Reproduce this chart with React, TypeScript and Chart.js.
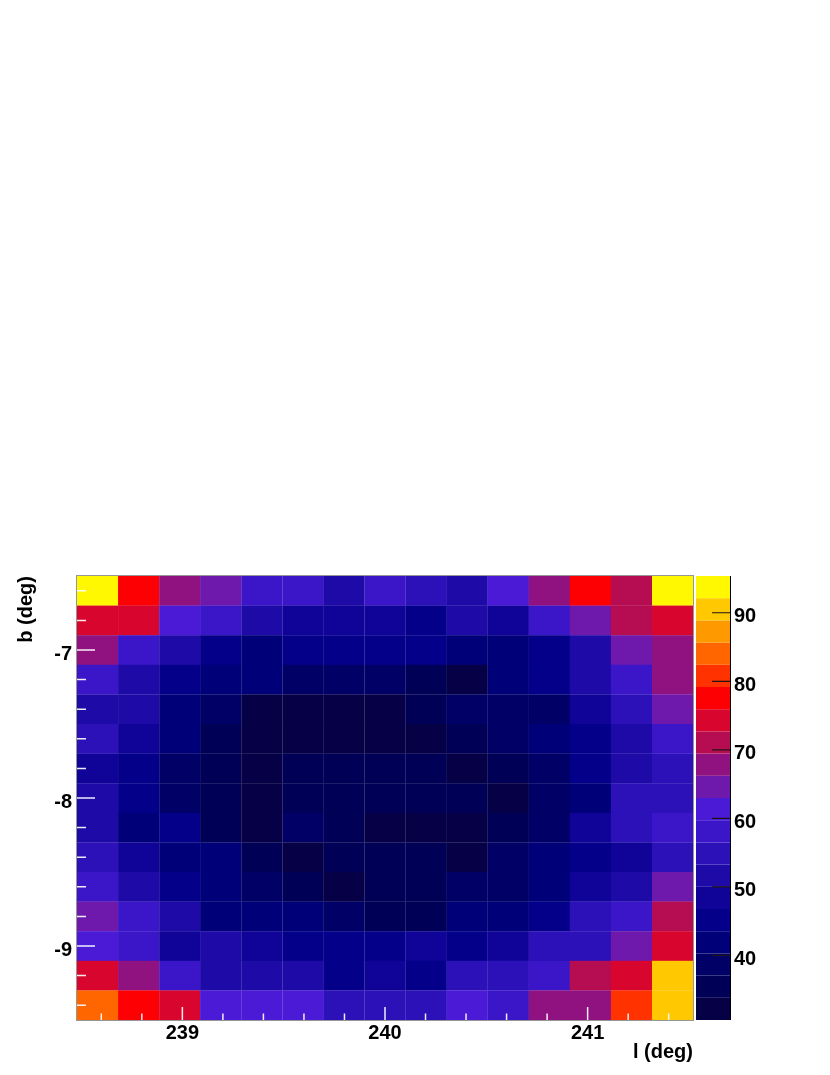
import React, { useEffect, useRef } from 'react';
import { Chart, registerables } from 'chart.js';

Chart.register(...registerables);

// Galactic longitude bin centres (deg)
const lCenters = [238.581, 238.784, 238.987, 239.189, 239.392, 239.595, 239.797, 240.0, 240.203, 240.405, 240.608, 240.811, 241.013, 241.216, 241.419];
// Galactic latitude bin centres (deg), top row first
const bCenters = [-6.6, -6.8, -7.0, -7.2, -7.4, -7.6, -7.8, -8.0, -8.2, -8.4, -8.6, -8.8, -9.0, -9.2, -9.4];

// Cell values, one array per latitude row (top to bottom)
const row01 = [95.3, 77.9, 67.5, 64.2, 58.4, 57.8, 51.2, 58.6, 55.1, 51.9, 61.0, 68.2, 77.2, 71.4, 94.6];
const row02 = [74.6, 74.0, 61.7, 58.3, 51.4, 48.7, 48.1, 48.5, 45.4, 51.8, 48.2, 57.9, 64.9, 70.8, 74.1];
const row03 = [67.6, 58.0, 51.5, 45.3, 42.2, 45.0, 44.8, 45.5, 45.1, 41.8, 42.4, 45.4, 51.9, 64.3, 68.1];
const row04 = [58.2, 51.7, 44.9, 42.0, 41.6, 38.9, 38.5, 38.8, 35.6, 32.4, 42.1, 45.3, 51.4, 58.5, 67.6];
const row05 = [51.9, 51.2, 41.7, 38.4, 32.0, 31.8, 32.3, 32.5, 35.2, 38.6, 38.9, 38.3, 48.6, 54.6, 64.8];
const row06 = [54.6, 48.5, 41.5, 35.3, 32.1, 32.6, 32.0, 31.9, 32.4, 35.6, 38.4, 42.0, 45.0, 51.5, 58.3];
const row07 = [48.3, 45.2, 38.6, 35.5, 32.3, 35.1, 35.7, 35.4, 35.9, 32.2, 35.3, 38.7, 45.4, 51.7, 54.7];
const row08 = [51.5, 45.0, 38.9, 35.6, 32.1, 35.2, 35.4, 35.3, 35.5, 35.8, 31.9, 38.5, 42.1, 54.8, 55.0];
const row09 = [51.8, 42.3, 45.1, 35.4, 32.0, 38.4, 35.3, 32.4, 32.1, 32.5, 35.6, 38.8, 48.2, 55.1, 58.0];
const row10 = [54.7, 48.6, 41.8, 42.0, 35.5, 32.2, 35.3, 35.8, 35.6, 32.3, 38.6, 41.9, 45.2, 48.4, 54.5];
const row11 = [58.3, 51.6, 45.3, 41.7, 38.5, 35.4, 32.1, 35.6, 35.5, 38.7, 38.9, 42.0, 48.1, 51.5, 64.6];
const row12 = [64.5, 58.1, 51.9, 42.2, 41.8, 41.6, 38.7, 35.3, 35.5, 42.1, 41.9, 45.3, 54.7, 58.2, 71.2];
const row13 = [61.2, 58.4, 48.3, 51.5, 48.6, 45.1, 44.9, 45.3, 48.2, 45.4, 48.5, 54.8, 55.0, 64.7, 74.5];
const row14 = [74.2, 67.9, 58.0, 51.8, 51.4, 51.6, 45.2, 48.3, 45.0, 54.9, 54.6, 58.3, 71.0, 74.4, 90.6];
const row15 = [84.1, 77.4, 74.0, 61.4, 61.2, 61.6, 54.8, 55.0, 54.7, 61.3, 58.2, 67.7, 68.0, 80.9, 90.3];
const rows = [row01, row02, row03, row04, row05, row06, row07, row08, row09, row10, row11, row12, row13, row14, row15];

// Axis ranges and ticks
const L_MIN = 238.48;
const L_MAX = 241.52;
const B_MIN = -9.5;
const B_MAX = -6.5;
const Z_MIN = 30.58;
const Z_MAX = 95.36;
const L_BIN = 0.2027;
const B_BIN = 0.2;
const lTicks = [239, 240, 241];
const lMinorTicks = [238.6, 238.8, 239.2, 239.4, 239.6, 239.8, 240.2, 240.4, 240.6, 240.8, 241.2, 241.4];
const bTicks = [-7, -8, -9];
const bMinorTicks = [-6.6, -6.8, -7.2, -7.4, -7.6, -7.8, -8.2, -8.4, -8.6, -8.8, -9.2, -9.4];
const zTicks = [40, 50, 60, 70, 80, 90];

// 20-level colour palette (low to high)
const palette = [
  'rgb(6,0,70)', 'rgb(0,0,86)', 'rgb(0,0,102)', 'rgb(0,0,120)', 'rgb(4,0,138)',
  'rgb(16,4,152)', 'rgb(30,10,166)', 'rgb(44,16,184)', 'rgb(58,22,200)', 'rgb(74,26,215)',
  'rgb(110,24,172)', 'rgb(144,18,128)', 'rgb(182,12,82)', 'rgb(216,6,46)', 'rgb(252,0,4)',
  'rgb(255,50,0)', 'rgb(255,102,0)', 'rgb(255,153,0)', 'rgb(255,200,0)', 'rgb(255,248,0)',
];

const FONT_FAMILY = "'Liberation Sans', Arial, Helvetica, sans-serif";

function colorFor(v: number): string {
  const n = palette.length;
  let i = Math.floor(((v - Z_MIN) / (Z_MAX - Z_MIN)) * n);
  if (i < 0) i = 0;
  if (i > n - 1) i = n - 1;
  return palette[i];
}

const heatmapPlugin = {
  id: 'heatmapPlugin',
  beforeDatasetsDraw(chart: any) {
    const ctx = chart.ctx;
    const xs = chart.scales.x;
    const ys = chart.scales.y;
    const ds = chart.data.datasets[0];
    ctx.save();
    for (const p of ds.data as any[]) {
      const x0 = xs.getPixelForValue(p.x - L_BIN / 2);
      const x1 = xs.getPixelForValue(p.x + L_BIN / 2);
      const y0 = ys.getPixelForValue(p.y + B_BIN / 2);
      const y1 = ys.getPixelForValue(p.y - B_BIN / 2);
      ctx.fillStyle = colorFor(p.v);
      ctx.fillRect(x0, y0, x1 - x0 + 0.2, y1 - y0 + 0.2);
    }
    ctx.restore();
  },
  afterDatasetsDraw(chart: any) {
    const ctx = chart.ctx;
    const area = chart.chartArea;
    const xs = chart.scales.x;
    const ys = chart.scales.y;
    const zs = chart.scales.z;
    ctx.save();
    // frame
    ctx.strokeStyle = 'rgb(150,150,150)';
    ctx.lineWidth = 1;
    ctx.strokeRect(area.left - 0.5, area.top - 0.5, area.right - area.left + 1, area.bottom - area.top + 1);

    // white tick marks inside the frame
    ctx.strokeStyle = 'rgba(255,255,255,0.92)';
    ctx.lineWidth = 1.5;
    ctx.beginPath();
    for (const t of lTicks) {
      const px = xs.getPixelForValue(t);
      ctx.moveTo(px, area.bottom);
      ctx.lineTo(px, area.bottom - 13);
    }
    for (const t of lMinorTicks) {
      const px = xs.getPixelForValue(t);
      ctx.moveTo(px, area.bottom);
      ctx.lineTo(px, area.bottom - 6.5);
    }
    for (const t of bTicks) {
      const py = ys.getPixelForValue(t);
      ctx.moveTo(area.left, py);
      ctx.lineTo(area.left + 18, py);
    }
    for (const t of bMinorTicks) {
      const py = ys.getPixelForValue(t);
      ctx.moveTo(area.left, py);
      ctx.lineTo(area.left + 9, py);
    }
    ctx.stroke();

    // colour bar
    const barL = area.right + 3;
    const barR = area.right + 37;
    const n = palette.length;
    for (let i = 0; i < n; i++) {
      const lo = Z_MIN + ((Z_MAX - Z_MIN) * i) / n;
      const hi = Z_MIN + ((Z_MAX - Z_MIN) * (i + 1)) / n;
      const y0 = zs.getPixelForValue(hi);
      const y1 = zs.getPixelForValue(lo);
      ctx.fillStyle = palette[i];
      ctx.fillRect(barL, y0, barR - barL, y1 - y0);
    }
    ctx.strokeStyle = '#000';
    ctx.lineWidth = 1;
    ctx.beginPath();
    ctx.moveTo(barR + 0.5, zs.getPixelForValue(Z_MAX));
    ctx.lineTo(barR + 0.5, zs.getPixelForValue(Z_MIN));
    ctx.stroke();
    ctx.strokeStyle = 'rgb(30,20,20)';
    ctx.lineWidth = 1.2;
    ctx.beginPath();
    for (const t of zTicks) {
      const py = zs.getPixelForValue(t);
      ctx.moveTo(barR, py);
      ctx.lineTo(barR - 18, py);
    }
    ctx.stroke();
    ctx.restore();
  },
};

export default function App() {
  const canvasRef = useRef<HTMLCanvasElement | null>(null);

  useEffect(() => {
    const canvas = canvasRef.current;
    if (!canvas) return;
    const points: any[] = [];
    rows.forEach((row, r) => {
      row.forEach((v, c) => {
        points.push({ x: lCenters[c], y: bCenters[r], v });
      });
    });
    const tickFont = { family: FONT_FAMILY, size: 20, weight: 'bold' as const };
    const chart = new Chart(canvas, {
      type: 'scatter',
      data: {
        datasets: [
          {
            data: points,
            pointRadius: 0,
            pointHoverRadius: 0,
            showLine: false,
          },
        ],
      },
      options: {
        animation: false,
        responsive: false,
        maintainAspectRatio: false,
        events: [],
        layout: { padding: { top: 576, left: 0, right: 0, bottom: 0 } },
        plugins: {
          legend: { display: false },
          tooltip: { enabled: false },
        },
        scales: {
          x: {
            type: 'linear',
            position: 'bottom',
            min: L_MIN,
            max: L_MAX,
            afterBuildTicks: (scale: any) => {
              scale.ticks = lTicks.map((v) => ({ value: v }));
            },
            afterFit: (scale: any) => {
              scale.height = 55;
            },
            grid: { display: false, drawTicks: false },
            border: { display: false },
            ticks: {
              color: '#000',
              font: tickFont,
              padding: 1,
              maxRotation: 0,
              autoSkip: false,
              callback: (v: any) => String(v),
            },
            title: {
              display: true,
              text: 'l (deg)',
              align: 'end',
              color: '#000',
              font: tickFont,
              padding: { top: 0, bottom: 11 },
            },
          },
          y: {
            type: 'linear',
            position: 'left',
            min: B_MIN,
            max: B_MAX,
            afterBuildTicks: (scale: any) => {
              scale.ticks = bTicks.map((v) => ({ value: v }));
            },
            afterFit: (scale: any) => {
              scale.width = 77;
            },
            grid: { display: false, drawTicks: false },
            border: { display: false },
            ticks: {
              color: '#000',
              font: tickFont,
              padding: 5,
              labelOffset: 4,
              autoSkip: false,
              callback: (v: any) => String(v),
            },
            title: {
              display: true,
              text: 'b (deg)',
              align: 'end',
              color: '#000',
              font: tickFont,
              padding: { top: 14, bottom: 0 },
            },
          },
          z: {
            type: 'linear',
            axis: 'y',
            position: 'right',
            min: Z_MIN,
            max: Z_MAX,
            afterBuildTicks: (scale: any) => {
              scale.ticks = zTicks.map((v) => ({ value: v }));
            },
            afterFit: (scale: any) => {
              scale.width = 137;
            },
            grid: { display: false, drawTicks: false },
            border: { display: false },
            ticks: {
              color: '#000',
              font: tickFont,
              padding: 41,
              labelOffset: 4,
              autoSkip: false,
              callback: (v: any) => String(v),
            },
          },
        },
      } as any,
      plugins: [heatmapPlugin],
    });
    return () => {
      chart.destroy();
    };
  }, []);

  return (
    <div style={{ position: 'absolute', left: 0, top: 0, width: 830, height: 1075, background: '#fff' }}>
      <canvas ref={canvasRef} width={830} height={1075} style={{ display: 'block', width: 830, height: 1075 }} />
    </div>
  );
}
